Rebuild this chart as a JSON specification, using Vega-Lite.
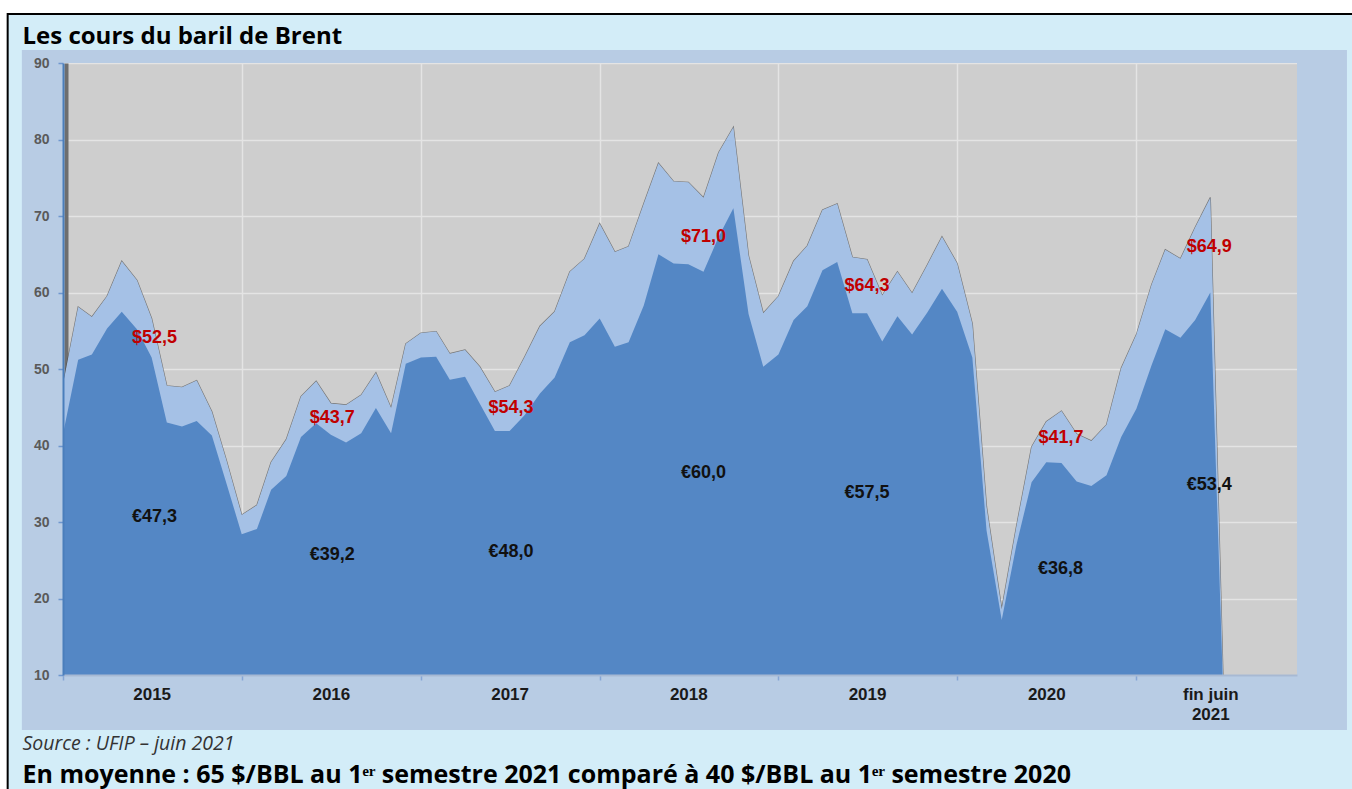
{
  "$schema": "https://vega.github.io/schema/vega-lite/v6.json",
  "width": 1234,
  "height": 612,
  "autosize": {"type": "none"},
  "padding": {"left": 63, "top": 63, "right": 55, "bottom": 114},
  "background": "#d3edf8",
  "config": {"view": {"fill": "#cecece", "stroke": null}, "font": "Liberation Sans"},
  "datasets": {
    "brent": [
      {"date": "2015-01-01T00:00", "usd": 48.0, "eur": 41.5},
      {"date": "2015-02-01T00:00", "usd": 58.1, "eur": 51.2},
      {"date": "2015-03-01T00:00", "usd": 56.8, "eur": 51.9},
      {"date": "2015-04-01T00:00", "usd": 59.5, "eur": 55.3},
      {"date": "2015-05-01T00:00", "usd": 64.1, "eur": 57.5},
      {"date": "2015-06-01T00:00", "usd": 61.6, "eur": 55.2},
      {"date": "2015-07-01T00:00", "usd": 56.6, "eur": 51.5},
      {"date": "2015-08-01T00:00", "usd": 47.8, "eur": 43.0},
      {"date": "2015-09-01T00:00", "usd": 47.6, "eur": 42.5},
      {"date": "2015-10-01T00:00", "usd": 48.5, "eur": 43.2},
      {"date": "2015-11-01T00:00", "usd": 44.4, "eur": 41.3},
      {"date": "2015-12-01T00:00", "usd": 38.0, "eur": 35.0},
      {"date": "2016-01-01T00:00", "usd": 30.9, "eur": 28.4},
      {"date": "2016-02-01T00:00", "usd": 32.2, "eur": 29.1},
      {"date": "2016-03-01T00:00", "usd": 37.8, "eur": 34.2},
      {"date": "2016-04-01T00:00", "usd": 40.8, "eur": 36.0},
      {"date": "2016-05-01T00:00", "usd": 46.4, "eur": 41.1},
      {"date": "2016-06-01T00:00", "usd": 48.4, "eur": 42.9},
      {"date": "2016-07-01T00:00", "usd": 45.5, "eur": 41.4},
      {"date": "2016-08-01T00:00", "usd": 45.3, "eur": 40.4},
      {"date": "2016-09-01T00:00", "usd": 46.6, "eur": 41.6},
      {"date": "2016-10-01T00:00", "usd": 49.5, "eur": 44.9},
      {"date": "2016-11-01T00:00", "usd": 44.9, "eur": 41.6},
      {"date": "2016-12-01T00:00", "usd": 53.3, "eur": 50.7},
      {"date": "2017-01-01T00:00", "usd": 54.7, "eur": 51.5},
      {"date": "2017-02-01T00:00", "usd": 54.9, "eur": 51.6},
      {"date": "2017-03-01T00:00", "usd": 52.0, "eur": 48.6},
      {"date": "2017-04-01T00:00", "usd": 52.5, "eur": 49.0},
      {"date": "2017-05-01T00:00", "usd": 50.3, "eur": 45.5},
      {"date": "2017-06-01T00:00", "usd": 47.0, "eur": 41.9},
      {"date": "2017-07-01T00:00", "usd": 47.8, "eur": 41.9},
      {"date": "2017-08-01T00:00", "usd": 51.6, "eur": 44.0},
      {"date": "2017-09-01T00:00", "usd": 55.6, "eur": 46.8},
      {"date": "2017-10-01T00:00", "usd": 57.5, "eur": 48.9},
      {"date": "2017-11-01T00:00", "usd": 62.7, "eur": 53.5},
      {"date": "2017-12-01T00:00", "usd": 64.4, "eur": 54.4},
      {"date": "2018-01-01T00:00", "usd": 69.0, "eur": 56.6},
      {"date": "2018-02-01T00:00", "usd": 65.3, "eur": 52.9},
      {"date": "2018-03-01T00:00", "usd": 66.0, "eur": 53.5},
      {"date": "2018-04-01T00:00", "usd": 71.6, "eur": 58.3},
      {"date": "2018-05-01T00:00", "usd": 76.9, "eur": 65.0},
      {"date": "2018-06-01T00:00", "usd": 74.5, "eur": 63.8},
      {"date": "2018-07-01T00:00", "usd": 74.4, "eur": 63.7},
      {"date": "2018-08-01T00:00", "usd": 72.4, "eur": 62.7},
      {"date": "2018-09-01T00:00", "usd": 78.3, "eur": 67.3},
      {"date": "2018-10-01T00:00", "usd": 81.6, "eur": 71.0},
      {"date": "2018-11-01T00:00", "usd": 64.8, "eur": 57.2},
      {"date": "2018-12-01T00:00", "usd": 57.3, "eur": 50.3},
      {"date": "2019-01-01T00:00", "usd": 59.5, "eur": 51.9},
      {"date": "2019-02-01T00:00", "usd": 64.1, "eur": 56.4},
      {"date": "2019-03-01T00:00", "usd": 66.1, "eur": 58.2},
      {"date": "2019-04-01T00:00", "usd": 70.8, "eur": 62.9},
      {"date": "2019-05-01T00:00", "usd": 71.6, "eur": 64.0},
      {"date": "2019-06-01T00:00", "usd": 64.6, "eur": 57.3},
      {"date": "2019-07-01T00:00", "usd": 64.3, "eur": 57.3},
      {"date": "2019-08-01T00:00", "usd": 59.6, "eur": 53.6},
      {"date": "2019-09-01T00:00", "usd": 62.7, "eur": 56.9},
      {"date": "2019-10-01T00:00", "usd": 59.9, "eur": 54.5},
      {"date": "2019-11-01T00:00", "usd": 63.6, "eur": 57.4},
      {"date": "2019-12-01T00:00", "usd": 67.3, "eur": 60.5},
      {"date": "2020-01-01T00:00", "usd": 63.8, "eur": 57.5},
      {"date": "2020-02-01T00:00", "usd": 55.9, "eur": 51.5},
      {"date": "2020-03-01T00:00", "usd": 32.0, "eur": 28.9},
      {"date": "2020-04-01T00:00", "usd": 18.6, "eur": 17.2},
      {"date": "2020-05-01T00:00", "usd": 29.4, "eur": 27.0},
      {"date": "2020-06-01T00:00", "usd": 39.8, "eur": 35.2},
      {"date": "2020-07-01T00:00", "usd": 43.1, "eur": 37.8},
      {"date": "2020-08-01T00:00", "usd": 44.5, "eur": 37.7},
      {"date": "2020-09-01T00:00", "usd": 41.5, "eur": 35.3},
      {"date": "2020-10-01T00:00", "usd": 40.6, "eur": 34.7},
      {"date": "2020-11-01T00:00", "usd": 42.7, "eur": 36.1},
      {"date": "2020-12-01T00:00", "usd": 50.1, "eur": 41.1},
      {"date": "2021-01-01T00:00", "usd": 54.5, "eur": 44.8},
      {"date": "2021-02-01T00:00", "usd": 61.0, "eur": 50.5},
      {"date": "2021-03-01T00:00", "usd": 65.6, "eur": 55.2},
      {"date": "2021-04-01T00:00", "usd": 64.4, "eur": 54.1},
      {"date": "2021-05-01T00:00", "usd": 68.5, "eur": 56.4},
      {"date": "2021-06-01T00:00", "usd": 72.4, "eur": 60.0},
      {"date": "2021-07-01T00:00", "usd": 0, "eur": 0}
    ],
    "labels": [
      {"date": "2015-07-07T00:00", "value": 54.05, "text": "$52,5", "series": "usd"},
      {"date": "2016-07-04T00:00", "value": 43.56, "text": "$43,7", "series": "usd"},
      {"date": "2017-07-04T00:00", "value": 44.86, "text": "$54,3", "series": "usd"},
      {"date": "2018-08-01T00:00", "value": 67.3, "text": "$71,0", "series": "usd"},
      {"date": "2019-07-01T00:00", "value": 60.8, "text": "$64,3", "series": "usd"},
      {"date": "2020-07-31T00:00", "value": 40.94, "text": "$41,7", "series": "usd"},
      {"date": "2021-05-30T00:00", "value": 66.0, "text": "$64,9", "series": "usd"},
      {"date": "2015-07-07T00:00", "value": 30.7, "text": "€47,3", "series": "eur"},
      {"date": "2016-07-04T00:00", "value": 25.7, "text": "€39,2", "series": "eur"},
      {"date": "2017-07-04T00:00", "value": 26.1, "text": "€48,0", "series": "eur"},
      {"date": "2018-08-01T00:00", "value": 36.4, "text": "€60,0", "series": "eur"},
      {"date": "2019-07-01T00:00", "value": 33.8, "text": "€57,5", "series": "eur"},
      {"date": "2020-07-30T00:00", "value": 23.8, "text": "€36,8", "series": "eur"},
      {"date": "2021-05-30T00:00", "value": 34.8, "text": "€53,4", "series": "eur"}
    ]
  },
  "layer": [
    {
      "data": {"values": [{}]},
      "mark": {"type": "rect", "color": "#ffffff"},
      "encoding": {
        "x": {"datum": {"year": 2014, "month": 6, "date": 1}, "type": "temporal", "axis": null},
        "x2": {"datum": {"year": 2022, "month": 6, "date": 1}},
        "y": {"datum": 96.5, "type": "quantitative", "axis": null},
        "y2": {"datum": 100}
      }
    },
    {
      "data": {"values": [{}]},
      "mark": {"type": "rect", "color": "#ffffff"},
      "encoding": {
        "x": {"datum": {"year": 2014, "month": 6, "date": 1}, "type": "temporal", "axis": null},
        "x2": {"datum": {"year": 2014, "month": 9, "date": 10}},
        "y": {"datum": -10, "type": "quantitative", "axis": null},
        "y2": {"datum": 100}
      }
    },
    {
      "data": {"values": [{}]},
      "mark": {"type": "rule", "color": "#000000", "strokeWidth": 2},
      "encoding": {
        "x": {"datum": {"year": 2014, "month": 9, "date": 10}, "type": "temporal", "axis": null},
        "x2": {"datum": {"year": 2022, "month": 6, "date": 1}},
        "y": {"datum": 96.41, "type": "quantitative", "axis": null}
      }
    },
    {
      "data": {"values": [{}]},
      "mark": {"type": "rule", "color": "#000000", "strokeWidth": 2},
      "encoding": {
        "x": {"datum": {"year": 2014, "month": 9, "date": 10}, "type": "temporal", "axis": null},
        "y": {"datum": 96.54, "type": "quantitative", "axis": null},
        "y2": {"datum": -10}
      }
    },
    {
      "data": {"values": [{}]},
      "mark": {"type": "rect", "color": "#b8cce4"},
      "encoding": {
        "x": {"datum": {"year": 2014, "month": 10, "date": 9}, "type": "temporal", "axis": null},
        "x2": {"datum": {"year": 2015, "month": 1, "date": 1}},
        "y": {"datum": 2.81, "type": "quantitative", "axis": null},
        "y2": {"datum": 91.7}
      }
    },
    {
      "data": {"values": [{}]},
      "mark": {"type": "rect", "color": "#b8cce4"},
      "encoding": {
        "x": {"datum": {"year": 2021, "month": 11, "date": 25}, "type": "temporal", "axis": null},
        "x2": {"datum": {"year": 2022, "month": 3, "date": 7}},
        "y": {"datum": 2.81, "type": "quantitative", "axis": null},
        "y2": {"datum": 91.7}
      }
    },
    {
      "data": {"values": [{}]},
      "mark": {"type": "rect", "color": "#b8cce4"},
      "encoding": {
        "x": {"datum": {"year": 2015, "month": 1, "date": 1}, "type": "temporal", "axis": null},
        "x2": {"datum": {"year": 2021, "month": 11, "date": 25}},
        "y": {"datum": 90, "type": "quantitative", "axis": null},
        "y2": {"datum": 91.7}
      }
    },
    {
      "data": {"values": [{}]},
      "mark": {"type": "rect", "color": "#b8cce4"},
      "encoding": {
        "x": {"datum": {"year": 2015, "month": 1, "date": 1}, "type": "temporal", "axis": null},
        "x2": {"datum": {"year": 2021, "month": 11, "date": 25}},
        "y": {"datum": 2.81, "type": "quantitative", "axis": null},
        "y2": {"datum": 10}
      }
    },
    {
      "data": {"name": "brent"},
      "mark": {"type": "line", "color": "#3a3a3a", "strokeWidth": 1.2, "opacity": 0.6, "clip": true},
      "encoding": {
        "x": {
          "field": "date", "type": "temporal",
          "scale": {"domain": [{"year": 2015, "month": 1, "date": 1}, {"year": 2021, "month": 11, "date": 25}], "nice": false},
          "axis": {
            "orient": "top", "grid": true, "labels": false, "ticks": false, "domain": false,
            "gridColor": "#e4e4e4", "gridWidth": 1.5,
            "values": [{"year": 2016, "month": 1, "date": 1}, {"year": 2017, "month": 1, "date": 1}, {"year": 2018, "month": 1, "date": 1}, {"year": 2019, "month": 1, "date": 1}, {"year": 2020, "month": 1, "date": 1}, {"year": 2021, "month": 1, "date": 1}],
            "title": "Les cours du baril de Brent",
            "titleFont": "Open Sans", "titleFontSize": 24, "titleFontWeight": "bold", "titleColor": "#000000",
            "titleX": -41, "titleY": -19.5, "titleAlign": "left", "titleAnchor": "start", "titleBaseline": "alphabetic"
          }
        },
        "y": {
          "field": "usd", "type": "quantitative",
          "scale": {"domain": [10, 90], "nice": false, "zero": false},
          "axis": {
            "orient": "left", "grid": true, "labels": false, "ticks": false, "domain": false,
            "gridColor": "#e4e4e4", "gridWidth": 1.5,
            "values": [20, 30, 40, 50, 60, 70, 80, 90], "title": null
          }
        }
      }
    },
    {
      "data": {"name": "brent"},
      "mark": {"type": "area", "color": "#a5c1e6", "opacity": 1, "clip": true},
      "encoding": {
        "x": {
          "field": "date", "type": "temporal",
          "axis": {
            "orient": "bottom", "zindex": 1, "grid": false, "labels": false, "ticks": true, "tickSize": 5,
            "tickColor": "#86a6d6", "tickWidth": 1.5, "domain": true, "domainColor": "#a7b9d3", "domainWidth": 2,
            "values": [{"year": 2015, "month": 1, "date": 1}, {"year": 2016, "month": 1, "date": 1}, {"year": 2017, "month": 1, "date": 1}, {"year": 2018, "month": 1, "date": 1}, {"year": 2019, "month": 1, "date": 1}, {"year": 2020, "month": 1, "date": 1}, {"year": 2021, "month": 1, "date": 1}],
            "title": "Source : UFIP – juin 2021",
            "titleFont": "Open Sans", "titleFontSize": 19.5, "titleFontWeight": "normal", "titleFontStyle": "italic", "titleColor": "#333333",
            "titleX": -41, "titleY": 74, "titleAlign": "left", "titleAnchor": "start", "titleBaseline": "alphabetic"
          }
        },
        "y": {
          "field": "usd", "type": "quantitative",
          "axis": {
            "orient": "left", "zindex": 1, "grid": false, "values": [10, 20, 30, 40, 50, 60, 70, 80, 90],
            "ticks": true, "tickSize": 5, "tickColor": "#6f97cf", "tickWidth": 1.5,
            "domain": true, "domainColor": "#4a7ebb", "domainWidth": 2,
            "labelFont": "Liberation Sans", "labelFontSize": 14, "labelFontWeight": "bold", "labelColor": "#5a5a5a",
            "labelPadding": 9, "title": null
          }
        }
      }
    },
    {
      "data": {"name": "brent"},
      "mark": {"type": "area", "color": "#5487c5", "opacity": 1, "clip": true},
      "encoding": {
        "x": {
          "field": "date", "type": "temporal",
          "axis": {
            "orient": "bottom", "zindex": 1, "grid": false, "ticks": false, "tickSize": 0, "domain": false,
            "values": [{"year": 2015, "month": 7, "date": 1}, {"year": 2016, "month": 7, "date": 1}, {"year": 2017, "month": 7, "date": 1}, {"year": 2018, "month": 7, "date": 1}, {"year": 2019, "month": 7, "date": 1}, {"year": 2020, "month": 7, "date": 1}, {"year": 2021, "month": 6, "date": 1}],
            "labelExpr": "year(datum.value) == 2021 ? ['fin juin', '2021'] : '' + year(datum.value)",
            "labelFont": "Liberation Sans", "labelFontSize": 17, "labelFontWeight": "bold", "labelColor": "#1a1a1a",
            "labelPadding": 11.5, "labelLineHeight": 20, "labelOverlap": false, "labelFlush": false, "labelBound": false,
            "title": "En moyenne : 65 $/BBL au 1ᵉʳ semestre 2021 comparé à 40 $/BBL au 1ᵉʳ semestre 2020",
            "titleFont": "Open Sans", "titleFontSize": 25, "titleFontWeight": "bold", "titleColor": "#000000",
            "titleX": -41, "titleY": 107, "titleAlign": "left", "titleAnchor": "start", "titleBaseline": "alphabetic"
          }
        },
        "y": {
          "field": "eur", "type": "quantitative",
          "axis": {
            "orient": "left", "grid": false, "labels": false, "ticks": false,
            "domain": true, "domainColor": "#6e6e6e", "domainWidth": 4, "offset": -3, "title": null
          }
        }
      }
    },
    {
      "data": {"name": "labels"},
      "mark": {"type": "text", "font": "Liberation Sans", "fontSize": 18, "fontWeight": "bold", "align": "center", "baseline": "middle"},
      "encoding": {
        "x": {"field": "date", "type": "temporal", "axis": null},
        "y": {"field": "value", "type": "quantitative", "axis": null},
        "text": {"field": "text", "type": "nominal"},
        "color": {"field": "series", "type": "nominal", "scale": {"domain": ["usd", "eur"], "range": ["#c00000", "#111111"]}, "legend": null}
      }
    }
  ],
  "resolve": {"axis": {"x": "independent", "y": "independent"}}
}
